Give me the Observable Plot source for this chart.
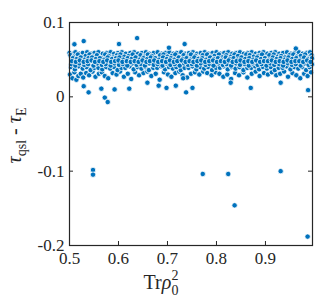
<!DOCTYPE html>
<html><head><meta charset="utf-8">
<script src="https://cdn.jsdelivr.net/npm/d3@7"></script>
<script src="https://cdn.jsdelivr.net/npm/@observablehq/plot@0.6"></script>
<style>body{margin:0;background:#fff}</style>
</head><body><div id="chart"></div>
<script>
// band layers: [Trρ0², τqsl-τE]
const bandCrest = [[0.500,0.059],[0.508,0.058],[0.512,0.060],[0.520,0.058],[0.527,0.059],[0.536,0.060],[0.544,0.058],[0.551,0.059],[0.559,0.060],[0.568,0.058],[0.576,0.059],[0.584,0.060],[0.591,0.058],[0.599,0.059],[0.607,0.060],[0.615,0.058],[0.624,0.059],[0.632,0.060],[0.640,0.058],[0.648,0.059],[0.656,0.060],[0.663,0.058],[0.672,0.059],[0.680,0.060],[0.688,0.058],[0.696,0.059],[0.704,0.060],[0.712,0.058],[0.719,0.059],[0.728,0.060],[0.736,0.058],[0.744,0.059],[0.752,0.060],[0.760,0.058],[0.768,0.059],[0.776,0.060],[0.784,0.058],[0.792,0.059],[0.800,0.060],[0.808,0.058],[0.816,0.059],[0.824,0.060],[0.832,0.058],[0.840,0.059],[0.848,0.060],[0.856,0.058],[0.864,0.059],[0.872,0.060],[0.880,0.058],[0.888,0.059],[0.896,0.060],[0.904,0.058],[0.912,0.059],[0.920,0.060],[0.928,0.058],[0.936,0.059],[0.944,0.060],[0.952,0.058],[0.960,0.059],[0.968,0.060],[0.976,0.058],[0.984,0.059],[0.991,0.060]];
const bandTop = [[0.502,0.056],[0.509,0.054],[0.517,0.057],[0.524,0.053],[0.533,0.055],[0.541,0.057],[0.548,0.054],[0.556,0.056],[0.565,0.052],[0.573,0.057],[0.580,0.055],[0.589,0.053],[0.597,0.056],[0.604,0.057],[0.612,0.054],[0.621,0.055],[0.629,0.057],[0.636,0.053],[0.645,0.056],[0.653,0.054],[0.660,0.057],[0.668,0.055],[0.677,0.052],[0.685,0.056],[0.692,0.057],[0.700,0.054],[0.709,0.055],[0.716,0.057],[0.724,0.053],[0.733,0.056],[0.741,0.054],[0.748,0.057],[0.757,0.055],[0.764,0.052],[0.772,0.056],[0.781,0.057],[0.789,0.054],[0.796,0.055],[0.805,0.057],[0.812,0.053],[0.820,0.056],[0.829,0.054],[0.837,0.057],[0.844,0.055],[0.853,0.053],[0.861,0.057],[0.868,0.056],[0.876,0.054],[0.885,0.055],[0.893,0.057],[0.900,0.052],[0.908,0.056],[0.917,0.057],[0.925,0.054],[0.932,0.055],[0.940,0.053],[0.949,0.056],[0.957,0.057],[0.964,0.054],[0.972,0.055],[0.981,0.057],[0.989,0.053],[0.994,0.056]];
const bandUpper = [[0.507,0.052],[0.515,0.051],[0.523,0.053],[0.531,0.050],[0.539,0.052],[0.546,0.053],[0.554,0.051],[0.562,0.052],[0.571,0.050],[0.578,0.053],[0.587,0.051],[0.595,0.052],[0.602,0.053],[0.610,0.050],[0.619,0.052],[0.627,0.051],[0.635,0.053],[0.643,0.050],[0.651,0.052],[0.659,0.051],[0.666,0.053],[0.675,0.052],[0.683,0.050],[0.691,0.053],[0.699,0.051],[0.707,0.052],[0.714,0.050],[0.723,0.053],[0.731,0.051],[0.739,0.052],[0.747,0.050],[0.755,0.053],[0.763,0.051],[0.771,0.052],[0.779,0.050],[0.787,0.053],[0.795,0.051],[0.803,0.052],[0.811,0.050],[0.819,0.053],[0.827,0.051],[0.835,0.052],[0.843,0.050],[0.851,0.053],[0.859,0.051],[0.867,0.052],[0.875,0.050],[0.883,0.053],[0.891,0.051],[0.899,0.052],[0.907,0.050],[0.915,0.053],[0.923,0.051],[0.931,0.052],[0.939,0.050],[0.947,0.053],[0.955,0.051],[0.963,0.052],[0.971,0.050],[0.979,0.053],[0.987,0.051],[0.995,0.052]];
const bandFill = [[0.504,0.044],[0.512,0.042],[0.520,0.045],[0.530,0.043],[0.538,0.044],[0.549,0.042],[0.557,0.045],[0.566,0.043],[0.574,0.044],[0.584,0.042],[0.592,0.045],[0.601,0.043],[0.609,0.044],[0.618,0.042],[0.628,0.045],[0.637,0.043],[0.646,0.044],[0.654,0.042],[0.663,0.045],[0.672,0.043],[0.680,0.044],[0.690,0.042],[0.698,0.045],[0.706,0.043],[0.715,0.044],[0.725,0.042],[0.734,0.045],[0.742,0.043],[0.750,0.044],[0.760,0.042],[0.768,0.045],[0.778,0.043],[0.786,0.044],[0.794,0.042],[0.804,0.045],[0.813,0.043],[0.821,0.044],[0.830,0.042],[0.840,0.045],[0.848,0.043],[0.858,0.044],[0.866,0.042],[0.874,0.045],[0.884,0.043],[0.892,0.044],[0.902,0.042],[0.910,0.045],[0.918,0.043],[0.928,0.044],[0.936,0.042],[0.946,0.045],[0.954,0.043],[0.962,0.044],[0.972,0.042],[0.980,0.045],[0.988,0.043],[0.995,0.044]];
const bandMid = [[0.505,0.048],[0.513,0.047],[0.521,0.049],[0.529,0.047],[0.537,0.048],[0.545,0.049],[0.552,0.047],[0.561,0.048],[0.569,0.047],[0.577,0.049],[0.585,0.047],[0.593,0.048],[0.600,0.049],[0.608,0.047],[0.617,0.048],[0.625,0.047],[0.633,0.048],[0.641,0.047],[0.649,0.049],[0.657,0.047],[0.664,0.048],[0.673,0.049],[0.681,0.047],[0.689,0.048],[0.697,0.047],[0.705,0.049],[0.713,0.047],[0.720,0.048],[0.729,0.049],[0.737,0.047],[0.745,0.048],[0.753,0.047],[0.761,0.048],[0.769,0.049],[0.777,0.047],[0.785,0.048],[0.793,0.049],[0.801,0.047],[0.809,0.048],[0.817,0.047],[0.825,0.049],[0.833,0.047],[0.841,0.048],[0.849,0.049],[0.857,0.047],[0.865,0.048],[0.873,0.047],[0.881,0.049],[0.889,0.047],[0.897,0.048],[0.905,0.048],[0.913,0.049],[0.921,0.047],[0.929,0.048],[0.937,0.047],[0.945,0.049],[0.953,0.047],[0.961,0.048],[0.969,0.048],[0.977,0.047],[0.985,0.049],[0.992,0.047]];
const bandLower = [[0.503,0.040],[0.511,0.037],[0.519,0.041],[0.527,0.038],[0.535,0.040],[0.543,0.036],[0.551,0.039],[0.559,0.039],[0.567,0.037],[0.575,0.040],[0.583,0.038],[0.591,0.040],[0.598,0.036],[0.606,0.039],[0.614,0.039],[0.623,0.041],[0.631,0.037],[0.639,0.040],[0.647,0.038],[0.655,0.040],[0.662,0.036],[0.671,0.039],[0.679,0.039],[0.687,0.041],[0.695,0.037],[0.703,0.040],[0.711,0.038],[0.718,0.040],[0.727,0.036],[0.735,0.039],[0.743,0.039],[0.751,0.041],[0.759,0.037],[0.767,0.040],[0.775,0.038],[0.783,0.040],[0.791,0.036],[0.799,0.039],[0.807,0.039],[0.815,0.041],[0.823,0.037],[0.831,0.040],[0.839,0.038],[0.847,0.040],[0.855,0.036],[0.863,0.039],[0.871,0.039],[0.879,0.041],[0.887,0.037],[0.895,0.040],[0.903,0.038],[0.911,0.040],[0.919,0.036],[0.927,0.039],[0.935,0.039],[0.943,0.041],[0.951,0.037],[0.959,0.040],[0.967,0.038],[0.975,0.040],[0.983,0.036],[0.990,0.040]];
const bandBottom = [[0.501,0.030],[0.506,0.025],[0.510,0.033],[0.514,0.023],[0.518,0.028],[0.523,0.031],[0.528,0.026],[0.534,0.032],[0.540,0.029],[0.547,0.034],[0.553,0.027],[0.560,0.031],[0.566,0.033],[0.572,0.028],[0.579,0.025],[0.588,0.032],[0.596,0.030],[0.603,0.034],[0.611,0.027],[0.619,0.031],[0.626,0.024],[0.634,0.033],[0.642,0.029],[0.651,0.032],[0.659,0.034],[0.667,0.028],[0.676,0.031],[0.684,0.023],[0.693,0.033],[0.701,0.030],[0.708,0.027],[0.716,0.032],[0.724,0.034],[0.731,0.029],[0.740,0.026],[0.748,0.031],[0.756,0.033],[0.765,0.030],[0.773,0.034],[0.781,0.032],[0.790,0.029],[0.798,0.033],[0.806,0.031],[0.814,0.027],[0.822,0.030],[0.830,0.024],[0.838,0.032],[0.846,0.029],[0.855,0.033],[0.863,0.026],[0.872,0.031],[0.880,0.034],[0.888,0.028],[0.897,0.032],[0.905,0.030],[0.913,0.033],[0.922,0.029],[0.930,0.031],[0.938,0.034],[0.946,0.027],[0.955,0.032],[0.963,0.029],[0.971,0.025],[0.979,0.031],[0.986,0.028],[0.993,0.033]];
const outliers = [[0.510,0.0707],[0.529,0.075],[0.601,0.071],[0.638,0.079],[0.703,0.066],[0.735,0.071],[0.962,0.065],
  [0.529,0.0143],[0.539,0.006],[0.572,-0.001],[0.578,-0.007],[0.565,0.011],[0.592,0.010],[0.622,0.011],[0.659,0.019],[0.682,0.015],[0.698,0.012],[0.717,0.015],[0.738,0.006],[0.751,0.012],[0.732,0.025],[0.870,0.012],[0.829,0.019],[0.931,0.019],[0.987,0.009],
  [0.548,-0.0984],[0.548,-0.1047],[0.772,-0.1038],[0.824,-0.1038],[0.837,-0.146],[0.931,-0.100],[0.986,-0.188]];
const xTicks = [0.5, 0.6, 0.7, 0.8, 0.9];
const yTicks = [-0.2, -0.1, 0, 0.1];

const all = [...bandCrest, ...bandBottom, ...bandLower, ...bandFill, ...bandTop, ...bandUpper, ...bandMid, ...outliers];
const W = 327, H = 306, mL = 69, mR = 15, mT = 22, mB = 61;
const pw = W - mL - mR, ph = H - mT - mB;
const font = "Liberation Serif, Times New Roman, serif";

const plot = Plot.plot({
  width: W, height: H,
  marginLeft: mL, marginRight: mR, marginTop: mT, marginBottom: mB,
  style: {fontFamily: font, fontSize: "17px", color: "#262626", background: "#fff"},
  x: {domain: [0.5, 0.996]},
  y: {domain: [-0.2, 0.1]},
  marks: [
    Plot.dot(all, {x: d => d[0], y: d => d[1], r: 2.7, fill: "#0072BD", stroke: "#fff", strokeWidth: 0.8}),
    Plot.frame({stroke: "#262626", strokeWidth: 1.2}),
    Plot.ruleX(xTicks, {x: d => d, insetTop: ph - 4, stroke: "#262626"}),
    Plot.ruleX(xTicks, {x: d => d, insetBottom: ph - 4, stroke: "#262626"}),
    Plot.ruleY(yTicks, {y: d => d, insetRight: pw - 4, stroke: "#262626"}),
    Plot.ruleY(yTicks, {y: d => d, insetLeft: pw - 4, stroke: "#262626"}),
    Plot.axisX({ticks: xTicks, tickSize: 0, tickPadding: 6, tickFormat: d => String(d), label: null, fill: "#262626"}),
    Plot.axisY({ticks: yTicks, tickSize: 0, tickPadding: 5, tickFormat: d => String(d), label: null, fill: "#262626"})
  ]
});
document.getElementById("chart").appendChild(plot);

const svg = d3.select(plot);
// y label
const yl = svg.append("text")
  .attr("transform", `translate(21,${mT + ph / 2 + 2}) rotate(-90)`)
  .attr("text-anchor", "middle")
  .attr("font-family", font).attr("font-size", 20).attr("fill", "#262626");
yl.append("tspan").attr("font-style", "italic").text("τ");
yl.append("tspan").attr("font-size", 14).attr("dy", 5).text("qsl");
yl.append("tspan").attr("dy", -5).text(" - ");
yl.append("tspan").attr("font-style", "italic").text("τ");
yl.append("tspan").attr("font-size", 14).attr("dy", 5).text("E");
// x label
const xl = svg.append("text")
  .attr("x", 161).attr("y", 289)
  .attr("font-family", font).attr("font-size", 20).attr("fill", "#262626");
xl.append("tspan").text("Tr");
xl.append("tspan").attr("font-style", "italic").text("ρ");
xl.append("tspan").attr("font-size", 14).attr("dy", -9).text("2");
xl.append("tspan").attr("font-size", 14).attr("dx", -7).attr("dy", 15).text("0");
</script>
</body></html>
